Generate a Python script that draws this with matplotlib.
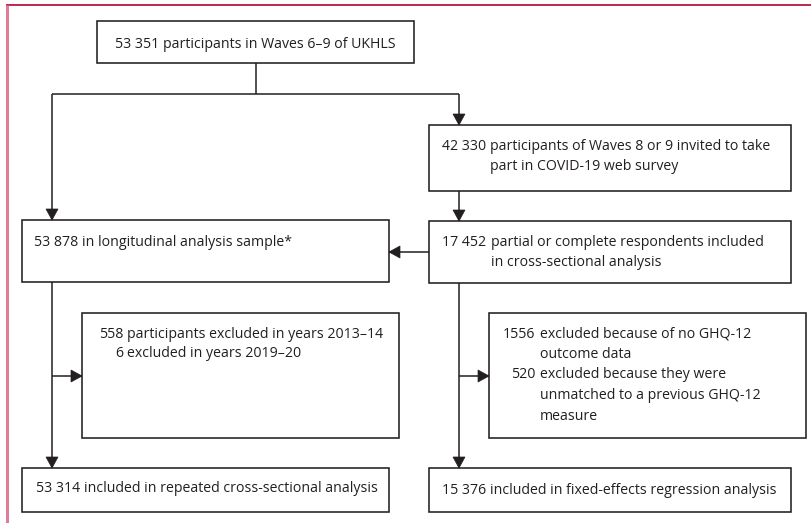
import matplotlib.pyplot as plt
from matplotlib.patches import Rectangle, Polygon

# box texts: each line is (number, text); number may be empty
top_box = [("53 351", "participants in Waves 6–9 of UKHLS")]
web_box = [("42 330", "participants of Waves 8 or 9 invited to take"),
           ("", "part in COVID-19 web survey")]
long_box = [("53 878", "in longitudinal analysis sample*")]
cross_box = [("17 452", "partial or complete respondents included"),
             ("", "in cross-sectional analysis")]
excl_left = [("558", "participants excluded in years 2013–14"),
             ("6", "excluded in years 2019–20")]
excl_right = [("1556", "excluded because of no GHQ-12"),
              ("", "outcome data"),
              ("520", "excluded because they were"),
              ("", "unmatched to a previous GHQ-12"),
              ("", "measure")]
final_left = [("53 314", "included in repeated cross-sectional analysis")]
final_right = [("15 376", "included in fixed-effects regression analysis")]

LC = "#231f20"
FONT = "Open Sans"
FS = 10.2

fig = plt.figure(figsize=(8.11, 5.23), dpi=100)
ax = fig.add_axes([0, 0, 1, 1])
ax.set_xlim(0, 811)
ax.set_ylim(523, 0)
ax.axis("off")

# frame lines
ax.plot([6, 811], [5, 5], color="#b8173f", lw=1.3, solid_capstyle="butt")
ax.plot([7, 7], [5, 523], color="#e07b98", lw=2.2, solid_capstyle="butt")


def box(x0, y0, x1, y1):
    ax.add_patch(Rectangle((x0, y0), x1 - x0, y1 - y0, fill=False,
                           ec=LC, lw=1.15))


def line(xs, ys):
    ax.plot(xs, ys, color=LC, lw=1.1, solid_capstyle="butt")


def head(x, y, direction):
    w, h = 6, 11
    if direction == "down":
        pts = [(x - w, y - h), (x + w, y - h), (x, y)]
    elif direction == "right":
        pts = [(x - h, y - w), (x - h, y + w), (x, y)]
    else:
        pts = [(x + h, y - w), (x + h, y + w), (x, y)]
    ax.add_patch(Polygon(pts, closed=True, fc=LC, ec=LC, lw=0.5))


def write(lines, num_right, text_left, y0, dy=19.5):
    for i, (num, txt) in enumerate(lines):
        y = y0 + i * dy
        if num:
            ax.text(num_right, y, num, ha="right", va="center",
                    fontsize=FS, family=FONT, color=LC)
        ax.text(text_left, y, txt, ha="left", va="center",
                fontsize=FS, family=FONT, color=LC)


# boxes
box(97, 21, 414, 63)
box(429, 125, 791, 191)
box(22, 220, 389, 282)
box(429, 221, 791, 283)
box(82, 313, 399, 438)
box(489, 313, 806, 438)
box(22, 468, 389, 512)
box(429, 468, 791, 512)

# connectors
line([256, 256], [63, 94])
line([52, 459], [94, 94])
line([52, 52], [94, 220])
head(52, 220, "down")
line([459, 459], [94, 125])
head(459, 125, "down")
line([459, 459], [191, 221])
head(459, 221, "down")
line([389, 429], [252, 252])
head(389, 252, "left")
line([52, 52], [282, 468])
head(52, 468, "down")
line([52, 82], [376, 376])
head(82, 376, "right")
line([459, 459], [283, 468])
head(459, 468, "down")
line([459, 489], [376, 376])
head(489, 376, "right")

# texts
write(top_box, 159, 163, 44)
write(web_box, 486, 490, 147)
write(long_box, 78, 82, 242)
write(cross_box, 486, 491, 242, dy=20.5)
write(excl_left, 123, 127, 334)
write(excl_right, 535, 540, 334, dy=20.5)
write(final_left, 80, 84, 489)
write(final_right, 486, 490, 490)

fig.savefig("out.png", dpi=100)
